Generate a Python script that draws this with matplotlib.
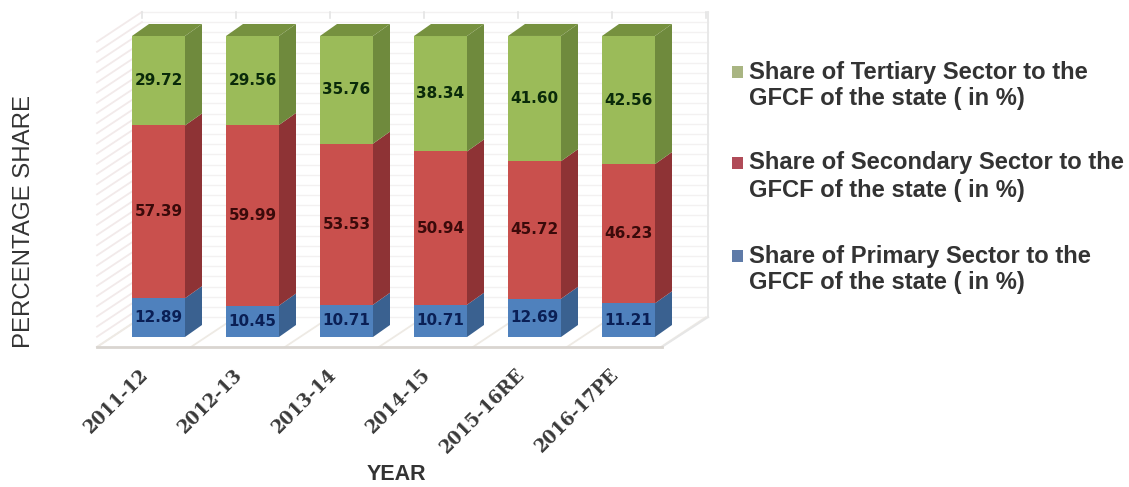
import matplotlib
matplotlib.use("Agg")
import matplotlib.pyplot as plt
from matplotlib.patches import Polygon

years = ["2011-12", "2012-13", "2013-14", "2014-15", "2015-16RE", "2016-17PE"]
primary = [12.89, 10.45, 10.71, 10.71, 12.69, 11.21]
secondary = [57.39, 59.99, 53.53, 50.94, 45.72, 46.23]
tertiary = [29.72, 29.56, 35.76, 38.34, 41.60, 42.56]
series_names = ["Share of Primary Sector to the\nGFCF of the state ( in %)",
                "Share of Secondary Sector to the\nGFCF of the state ( in %)",
                "Share of Tertiary Sector to the\nGFCF of the state ( in %)"]

W, H = 1129, 487
PX_X, X0 = 94.0, 158.5
PX_Y, Y0 = 3.01, 337.0
DX, DY = 17 / PX_X, 12 / PX_Y      # depth of the 3-D bars
BW = 53 / PX_X

fig = plt.figure(figsize=(W / 100, H / 100), dpi=100)
ax = fig.add_axes([0, 0, 1, 1])
ax.set_xlim(-X0 / PX_X, (W - X0) / PX_X)
ax.set_ylim((Y0 - H) / PX_Y, Y0 / PX_Y)
ax.axis("off")

# chart box in data units
fx0, fx1, fy = -0.654, 5.356, -3.3
bx0, bx1, by0, by1 = -0.176, 5.846, 6.6, 108.0
n_grid = 30
for k in range(n_grid + 1):
    y = by0 + (by1 - by0) * k / n_grid
    ax.plot([bx0, bx1], [y, y], color="#f3f1f1", lw=1, zorder=1)
    ax.plot([fx0, bx0], [fy + (y - by0), y], color="#f2eaea", lw=1.3, zorder=1)
for i in range(7):
    ax.plot([fx0 + i, bx0 + i], [fy, by0], color="#eeeae4", lw=1.3, zorder=1)
    ax.plot([bx0 + i, bx0 + i], [by1 - 2, by1], color="#e4e4e4", lw=1.2, zorder=1)
ax.plot([bx1, bx1], [by0, by1], color="#e8e8e8", lw=1.4, zorder=1)
ax.plot([fx1, bx1], [fy, by0], color="#e6e6e6", lw=1.4, zorder=1)
ax.plot([fx0, fx1], [fy, fy], color="#d9d5d0", lw=2, zorder=2)

styles = [("#4F81BD", "#3A6190", "#0a1f55"),
          ("#C9504D", "#8E3335", "#3a0a0a"),
          ("#9BBB59", "#6F8A3D", "#0a2a0a")]
legend_colors = ["#5F7BA8", "#B04B58", "#A9B582"]

for i, yr in enumerate(years):
    bottom = 0
    for vals, (front, side, txt) in zip((primary, secondary, tertiary), styles):
        v = vals[i]
        l, r = i - BW / 2, i + BW / 2
        ax.bar(i, v, BW, bottom=bottom, color=front, zorder=4)
        ax.add_patch(Polygon([(r, bottom), (r + DX, bottom + DY),
                              (r + DX, bottom + v + DY), (r, bottom + v)],
                             closed=True, fc=side, ec="none", zorder=4))
        if vals is tertiary:
            ax.add_patch(Polygon([(l, bottom + v), (l + DX, bottom + v + DY),
                                  (r + DX, bottom + v + DY), (r, bottom + v)],
                                 closed=True, fc="#76913F", ec="none", zorder=4))
        ax.text(i, bottom + v / 2, f"{v:.2f}", ha="center", va="center",
                fontsize=11, fontweight="bold", color=txt, zorder=5)
        bottom += v
    ax.text(i - 0.2, -9.5, yr, rotation=45, rotation_mode="anchor", ha="right", va="top",
            family="DejaVu Serif", fontweight="bold", fontsize=13, color="#3a3a3a", zorder=5)

# legend
ly = [(256, 283), (163, 191), (72, 99)]
for name, color, (y1, y2) in zip(series_names, legend_colors, ly):
    fig.patches.append(plt.Rectangle((732 / W, 1 - (y1 + 6) / H), 11 / W, 12 / H,
                                     transform=fig.transFigure, fc=color, ec="none"))
    a, b = name.split("\n")
    fig.text(749 / W, 1 - y1 / H, a, ha="left", va="center", family="Liberation Sans",
             fontweight="bold", fontsize=17.1, color="#333333")
    fig.text(749 / W, 1 - y2 / H, b, ha="left", va="center", family="Liberation Sans",
             fontweight="bold", fontsize=17.1, color="#333333")

fig.text(396 / W, 1 - 475 / H, "YEAR", ha="center", va="center", family="Liberation Sans",
         fontweight="bold", fontsize=15.5, color="#333333")
fig.text(24 / W, 1 - 222 / H, "PERCENTAGE SHARE", rotation=90, ha="center", va="center",
         family="Liberation Sans", fontsize=17.3, color="#333333")

fig.savefig("out.png", dpi=100)
